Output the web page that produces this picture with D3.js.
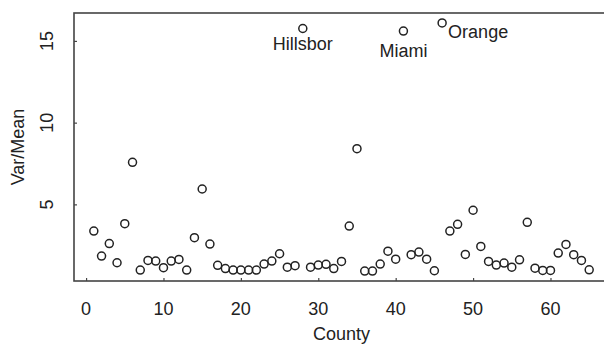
<!DOCTYPE html>
<html>
<head>
<meta charset="utf-8">
<script src="https://cdn.jsdelivr.net/npm/d3@7/dist/d3.min.js"></script>
<style>
  html, body { margin: 0; padding: 0; background: #fff; }
  svg { display: block; }
  text { font-family: "Liberation Sans", Arial, sans-serif; fill: #222; }
</style>
</head>
<body>
<svg id="chart" width="604" height="346"></svg>
<script>
// Variance-to-mean ratio per county (county index 1..65)
const counties = d3.range(1, 66);
const varMean = [
  3.37, 1.84, 2.60, 1.43, 3.82, 7.57, 0.98, 1.57, 1.53, 1.13,
  1.53, 1.63, 0.98, 2.96, 5.94, 2.57, 1.27, 1.07, 0.98, 0.98,
  0.98, 0.98, 1.35, 1.53, 1.98, 1.16, 1.25, 15.76, 1.16, 1.29,
  1.33, 1.07, 1.51, 3.67, 8.41, 0.92, 0.92, 1.35, 2.14, 1.65,
  15.60, 1.92, 2.08, 1.65, 0.94, 16.10, 3.37, 3.78, 1.94, 4.64,
  2.43, 1.51, 1.29, 1.41, 1.16, 1.61, 3.90, 1.10, 0.96, 0.96,
  2.02, 2.55, 1.92, 1.57, 1.00
];
const xTicks = [0, 10, 20, 30, 40, 50, 60];
const yTicks = [5, 10, 15];
const labelled = [
  { county: 28, name: "Hillsbor" },
  { county: 41, name: "Miami" },
  { county: 46, name: "Orange" }
];

const svg = d3.select("#chart");
const plotL = 74, plotR = 609, plotT = 13, plotB = 281;

// Plot region padded 4% beyond the data range on each side
const xPad = (d3.max(counties) - d3.min(counties)) * 0.04;
const yPad = (d3.max(varMean) - d3.min(varMean)) * 0.04;
const x = d3.scaleLinear()
  .domain([d3.min(counties) - xPad, d3.max(counties) + xPad])
  .range([plotL, plotR]);
const y = d3.scaleLinear()
  .domain([d3.min(varMean) - yPad, d3.max(varMean) + yPad])
  .range([plotB, plotT]);

// Frame
svg.append("rect")
  .attr("x", plotL).attr("y", plotT)
  .attr("width", plotR - plotL).attr("height", plotB - plotT)
  .attr("fill", "none").attr("stroke", "#444").attr("stroke-width", 1.6);

// Axes with short inward ticks
const xAxis = d3.axisBottom(x).tickValues(xTicks).tickSizeInner(-3).tickSizeOuter(0).tickFormat("");
svg.append("g").attr("transform", `translate(0,${plotB})`).call(xAxis)
  .call(g => g.select(".domain").remove())
  .call(g => g.selectAll("line").attr("stroke", "#444").attr("stroke-width", 1.2));

const yAxis = d3.axisLeft(y).tickValues(yTicks).tickSizeInner(-3).tickSizeOuter(0).tickFormat("");
svg.append("g").attr("transform", `translate(${plotL},0)`).call(yAxis)
  .call(g => g.select(".domain").remove())
  .call(g => g.selectAll("line").attr("stroke", "#444").attr("stroke-width", 1.2));

// Tick labels
svg.append("g").selectAll("text").data(xTicks).join("text")
  .attr("x", d => x(d)).attr("y", 315)
  .attr("text-anchor", "middle").attr("font-size", 18)
  .text(d => d);

svg.append("g").selectAll("text").data(yTicks).join("text")
  .attr("transform", d => `translate(53,${y(d)}) rotate(-90)`)
  .attr("text-anchor", "middle").attr("font-size", 18)
  .text(d => d);

// Axis titles
svg.append("text")
  .attr("x", (plotL + plotR) / 2).attr("y", 340)
  .attr("text-anchor", "middle").attr("font-size", 18)
  .text("County");
svg.append("text")
  .attr("transform", `translate(24,${(plotT + plotB) / 2}) rotate(-90)`)
  .attr("text-anchor", "middle").attr("font-size", 18)
  .text("Var/Mean");

// Points
svg.append("g").selectAll("circle").data(counties).join("circle")
  .attr("cx", d => x(d))
  .attr("cy", (d, i) => y(varMean[i]))
  .attr("r", 4)
  .attr("fill", "none")
  .attr("stroke", "#222")
  .attr("stroke-width", 1.5);

// Labels for the three largest counties
const labelPos = {
  Hillsbor: { dx: 0, dy: 22, anchor: "middle" },
  Miami:    { dx: 0, dy: 26, anchor: "middle" },
  Orange:   { dx: 6, dy: 15, anchor: "start" }
};
svg.append("g").selectAll("text").data(labelled).join("text")
  .attr("x", d => x(d.county) + labelPos[d.name].dx)
  .attr("y", d => y(varMean[d.county - 1]) + labelPos[d.name].dy)
  .attr("text-anchor", d => labelPos[d.name].anchor)
  .attr("font-size", 18)
  .text(d => d.name);
</script>
</body>
</html>
